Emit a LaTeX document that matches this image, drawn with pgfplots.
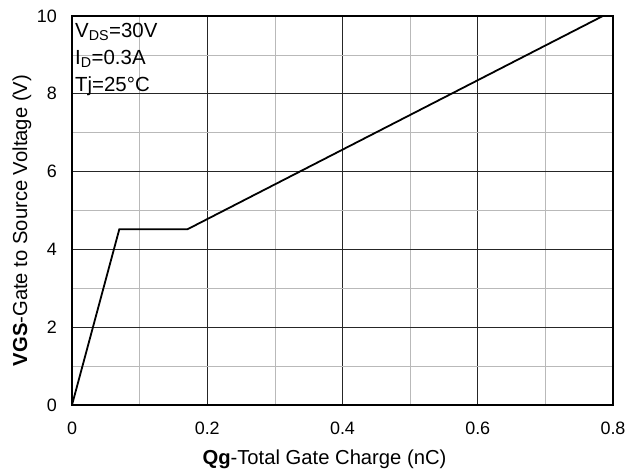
\documentclass[border=0pt]{standalone}
\usepackage{pgfplots}
\pgfplotsset{compat=1.18}
\usepackage{fontspec}
\setmainfont{Liberation Sans}
\begin{document}
\begin{tikzpicture}
\path[use as bounding box] (-72bp,-67bp) rectangle (568bp,405bp);
\begin{axis}[at={(0,0)},anchor=south west, scale only axis,
  width=541bp, height=389bp,
  xmin=0,xmax=0.8,ymin=0,ymax=10,
  xtick={0,0.2,0.4,0.6,0.8}, xticklabels={0,0.2,0.4,0.6,0.8},
  ytick={0,2,4,6,8,10}, yticklabels={0,2,4,6,8,10},
  minor xtick={0.1,0.3,0.5,0.7}, minor ytick={1,3,5,7,9},
  grid=both,
  major grid style={black!85, line width=0.7bp},
  minor grid style={gray!55, line width=0.7bp},
  major tick length=0pt, minor tick length=0pt,
  axis line style={line width=2bp},
  ticklabel style={font=\fontsize{18}{21}\selectfont, inner sep=0pt},
  xticklabel style={anchor=center, yshift=-23bp},
  yticklabel style={anchor=east, xshift=-15bp},
  xlabel={\textbf{Qg}-Total Gate Charge (nC)},
  ylabel={\textbf{VGS}-Gate to Source Voltage (V)},
  label style={font=\fontsize{20.3}{23}\selectfont, inner sep=0pt},
  xlabel style={at={([xshift=-18bp,yshift=-54bp]axis description cs:0.5,0)}, anchor=center},
  ylabel style={at={([xshift=-50bp,yshift=-10bp]axis description cs:0,0.5)}, anchor=center},
]
\addplot[black, line width=1.8bp] coordinates {(0,0) (0.070,4.52) (0.171,4.52) (0.785,10)};
\node[anchor=north west, align=left, inner sep=0pt, font=\fontsize{20.5}{27}\selectfont]
  at ([xshift=3bp,yshift=-7bp]rel axis cs:0,1)
  {V\textsubscript{DS}=30V\\I\textsubscript{D}=0.3A\\Tj=25°C};
\end{axis}
\end{tikzpicture}
\end{document}
